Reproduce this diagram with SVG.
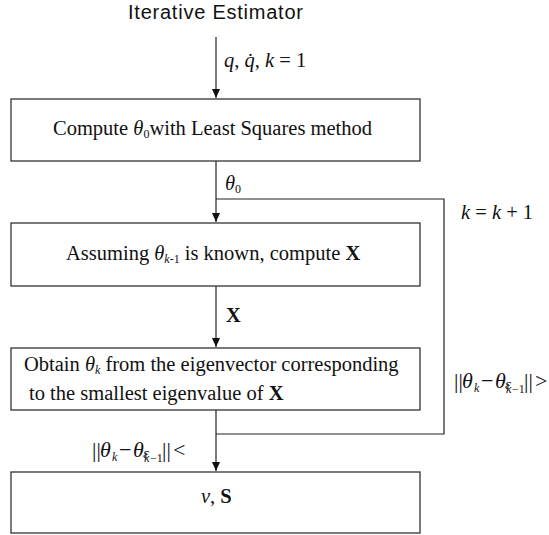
<svg xmlns="http://www.w3.org/2000/svg" width="549" height="535" viewBox="0 0 549 535">
<defs>
<style>
.box{fill:#fff;stroke:#333;stroke-width:1.3}
.ln{fill:none;stroke:#222;stroke-width:1.2}
.t{font-family:"Liberation Serif","Times New Roman",serif;font-size:20.5px;fill:#111}
.c{font-family:"Liberation Serif","Times New Roman",serif;font-size:22px;fill:#111}
.i{font-style:italic}
.b{font-weight:bold}
.s{font-size:12px}
.title{font-family:"Liberation Sans",Arial,sans-serif;font-size:20px;fill:#111}
</style>
<marker id="ah" markerWidth="10" markerHeight="10" refX="9" refY="4" orient="auto" markerUnits="userSpaceOnUse">
<path d="M0,0 L9,4 L0,8 Z" fill="#111"/>
</marker>
</defs>
<rect width="549" height="535" fill="#fff"/>
<text class="title" x="128" y="19" textLength="175">Iterative Estimator</text>

<g id="connectors">
<line class="ln" x1="216" y1="37" x2="216" y2="98" marker-end="url(#ah)"/>
<line class="ln" x1="216" y1="161" x2="216" y2="222" marker-end="url(#ah)"/>
<line class="ln" x1="216" y1="286" x2="216" y2="347" marker-end="url(#ah)"/>
<line class="ln" x1="216" y1="410" x2="216" y2="471" marker-end="url(#ah)"/>
<polyline class="ln" points="216,434 444,434 444,199 216,199"/>
<text class="t" x="224" y="67"><tspan class="i">q</tspan>,  <tspan class="i">q̇</tspan>,  <tspan class="i">k</tspan> = 1</text>
<text class="t" x="225" y="190"><tspan class="i">θ</tspan><tspan class="s" dy="3">0</tspan></text>
<text class="t b" x="226" y="322">X</text>
<text class="t" x="461" y="219"><tspan class="i">k</tspan> = <tspan class="i">k</tspan> + 1</text>
<text class="c" x="454" y="388">||<tspan class="i" x="462">θ</tspan><tspan class="i s" x="474" y="392">k</tspan><tspan x="481" y="388">−</tspan><tspan class="i" x="495">θ</tspan><tspan class="i" x="505" y="389" style="font-size:15px">ε</tspan><tspan class="i s" x="506" y="393">k</tspan><tspan class="s" x="512" y="393">−1</tspan><tspan x="524" y="388">||</tspan><tspan x="535">&gt;</tspan></text>
<text class="c" x="92" y="457">||<tspan class="i" x="100">θ</tspan><tspan class="i s" x="112" y="461">k</tspan><tspan x="119" y="457">−</tspan><tspan class="i" x="133">θ</tspan><tspan class="i" x="143" y="458" style="font-size:15px">ε</tspan><tspan class="i s" x="144" y="462">k</tspan><tspan class="s" x="150" y="462">−1</tspan><tspan x="162" y="457">||</tspan><tspan x="173">&lt;</tspan></text>
</g>

<g id="node1">
<rect class="box" x="11" y="99" width="409" height="62"/>
<text class="t" x="53" y="135">Compute <tspan class="i">θ</tspan><tspan class="s" dy="3">0</tspan><tspan dy="-3">with Least Squares method</tspan></text>
</g>
<g id="node2">
<rect class="box" x="11" y="223" width="409" height="63"/>
<text class="t" x="66" y="260">Assuming <tspan class="i">θ</tspan><tspan class="s" dy="3"><tspan class="i">k</tspan>-1</tspan><tspan dy="-3"> is known, compute </tspan><tspan class="b">X</tspan></text>
</g>
<g id="node3">
<rect class="box" x="11" y="348" width="409" height="62"/>
<text class="t" x="24" y="371">Obtain <tspan class="i">θ</tspan><tspan class="s i" dy="3">k</tspan><tspan dy="-3">  from the eigenvector corresponding</tspan></text>
<text class="t" x="29" y="400">to the smallest eigenvalue of <tspan class="b">X</tspan></text>
</g>
<g id="node4">
<rect class="box" x="11" y="472" width="409" height="61"/>
<text class="t" x="201" y="503"><tspan class="i">v</tspan>, <tspan class="b">S</tspan></text>
</g>
</svg>
